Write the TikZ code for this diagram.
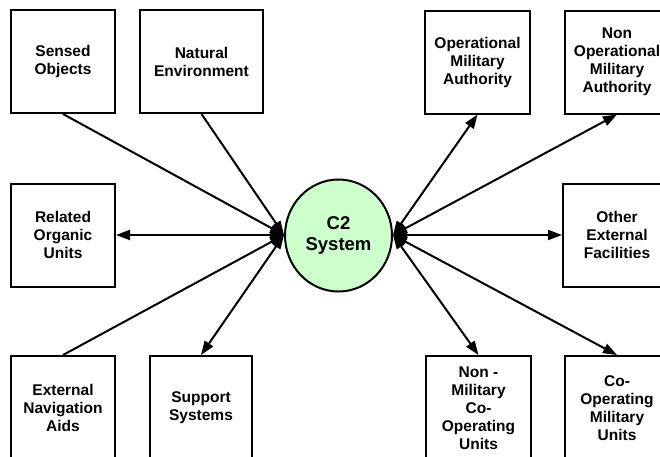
\documentclass[tikz,border=0pt]{standalone}
\usepackage{fontspec}
\setmainfont{Liberation Sans}
\usetikzlibrary{arrows.meta,shapes.geometric}
\definecolor{cgreen}{RGB}{204,255,204}
\tikzset{
  box/.style={draw, line width=2pt, minimum width=104pt, minimum height=103pt,
    align=center, inner sep=2pt, font=\fontsize{15.5}{18}\selectfont\bfseries},
  conn/.style={line width=2pt, -{Triangle[length=14pt,width=10pt]}},
  conn2/.style={line width=2pt, {Triangle[length=14pt,width=10pt]}-{Triangle[length=14pt,width=10pt]}}
}
\begin{document}
\begin{tikzpicture}[x=1pt,y=-1pt]
\useasboundingbox (0,0) rectangle (660,456);
\clip (0,0) rectangle (660,456);
\fill[white] (0,0) rectangle (660,456);
% boxes
\node[box] (so) at (63,61.5) {Sensed\\Objects};
\node[box, minimum width=123pt] (ne) at (201.5,61.5) {Natural\\Environment};
\node[box, minimum width=105pt] (oma) at (477.5,62) {Operational\\Military\\Authority};
\node[box] (noma) at (617,62) {Non\\Operational\\Military\\Authority};
\node[box] (rou) at (63,235) {Related\\Organic\\Units};
\node[box, minimum width=108pt] (oef) at (617,235) {Other\\External\\Facilities};
\node[box, minimum height=104pt] (ena) at (63,408) {External\\Navigation\\Aids};
\node[box, minimum width=102pt, minimum height=104pt] (ss) at (201,408) {Support\\Systems};
\node[box, minimum width=105pt, minimum height=104pt] (nmcu) at (478.5,408) {Non -\\Military\\Co-\\Operating\\Units};
\node[box, minimum height=104pt] (cmu) at (617,408) {Co-\\Operating\\Military\\Units};
% centre
\node[ellipse, draw, line width=2pt, fill=cgreen, minimum width=107pt, minimum height=112pt,
  align=center, font=\fontsize{18.5}{21}\selectfont\bfseries] (c2) at (338.5,235.5) {C2\\System};
\coordinate (L) at (284,235);
\coordinate (R) at (393,235);
% connectors
\draw[conn] (so.south) -- (L);
\draw[conn] (ne.south) -- (L);
\draw[conn2] (L) -- (rou.east);
\draw[conn] (ena.north) -- (L);
\draw[conn2] (L) -- (ss.north);
\draw[conn2] (R) -- (oma.south);
\draw[conn2] (R) -- (noma.south);
\draw[conn2] (R) -- (oef.west);
\draw[conn2] (R) -- (nmcu.north);
\draw[conn2] (R) -- (cmu.north);
\end{tikzpicture}
\end{document}
